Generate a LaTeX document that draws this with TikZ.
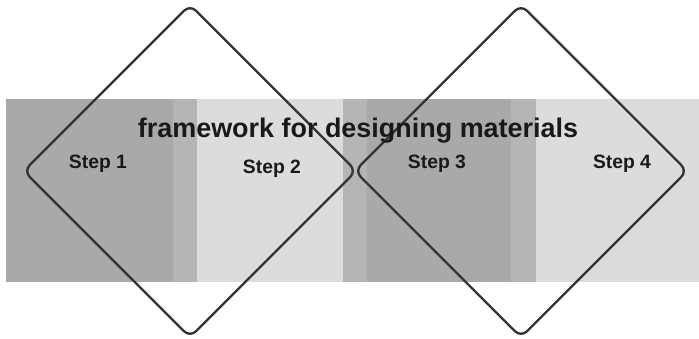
\documentclass[tikz,border=0pt]{standalone}
\usepackage{fontspec}
\setmainfont{Liberation Sans}
\definecolor{darkband}{HTML}{A9A9A9}
\definecolor{midband}{HTML}{B5B5B5}
\definecolor{lightband}{HTML}{DCDCDC}
\definecolor{ink}{HTML}{333333}
\begin{document}
\begin{tikzpicture}[x=0.03cm, y=-0.03cm]
        \tikzstyle{stepbox}=[draw=ink, line width=2pt, rounded corners=7pt, rotate=45, minimum size=7.05cm, inner sep=0pt]
        \tikzstyle{steplabel}=[anchor=base, text=black!90, font=\fontsize{16.5}{19}\selectfont\bfseries]

        \useasboundingbox (0,0) rectangle (699,339);

        % background band
        \fill[darkband] (6,99) rectangle (173,282);
        \fill[midband] (173,99) rectangle (197,282);
        \fill[lightband] (197,99) rectangle (343,282);
        \fill[midband] (343,99) rectangle (367,282);
        \fill[darkband] (367,99) rectangle (511,282);
        \fill[midband] (511,99) rectangle (536,282);
        \fill[lightband] (536,99) rectangle (699,282);

        \node[stepbox](d1) at (190,171){};
        \node[stepbox](d2) at (521,171){};

        \node[anchor=base, text=black!90, font=\fontsize{23}{27}\selectfont\bfseries](title) at (358,137){framework for designing materials};
        \node[steplabel](s1) at (98,168){Step 1};
        \node[steplabel](s2) at (272,173){Step 2};
        \node[steplabel](s3) at (437,168){Step 3};
        \node[steplabel](s4) at (622,168){Step 4};

\end{tikzpicture}
\end{document}
